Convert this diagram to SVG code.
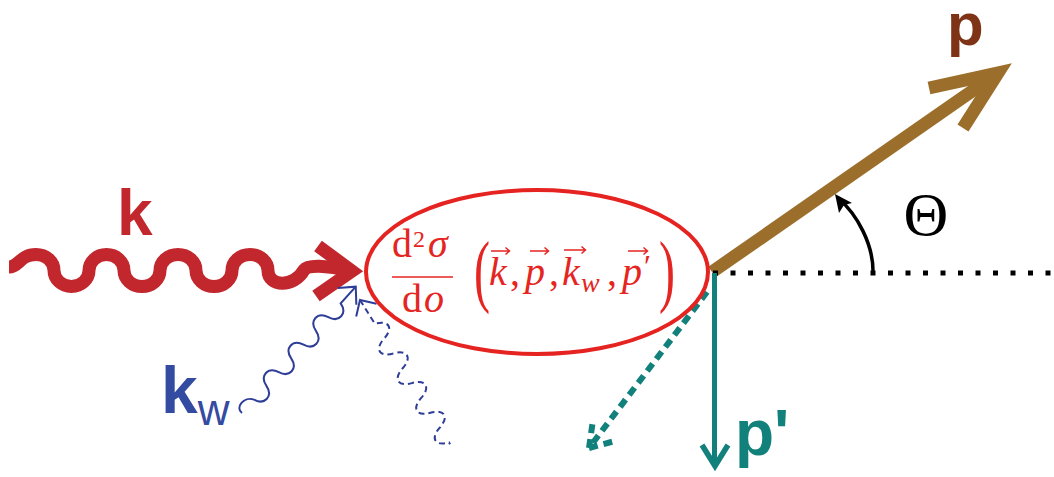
<svg xmlns="http://www.w3.org/2000/svg" width="1054" height="477" viewBox="0 0 1054 477">
<style>
.lbl{font-family:"Liberation Sans",Arial,sans-serif;font-weight:bold}
.math{font-family:"Liberation Serif","DejaVu Serif",serif;fill:#e52521}
.vec{fill:none;stroke:#e52521;stroke-width:1.5}
.teal{fill:none;stroke:#12807b}
.blue{fill:none;stroke:#2e3d97;stroke-width:2}
</style>
<rect width="1054" height="477" fill="#ffffff"/>
<g id="connectors" fill="none">
  <g id="edge-k">
    <path d="M9,267 C19,267 20,254.5 36,254.5 A18,16 0 0 1 54,270.5 A17.5,16 0 0 0 89,270.5 A17.5,16 0 0 1 124,270.5 A18,16 0 0 0 160,270.5 A18,16 0 0 1 196,270.5 A18,16 0 0 0 232,270.5 A18,16 0 0 1 268,270.5 C268,287 294,288 304,270 Q310,262 352,271" stroke="#c1272d" stroke-width="13"/>
    <polyline points="318,246 352,271 316,296" stroke="#c1272d" stroke-width="13" stroke-miterlimit="10"/>
  </g>
  <g id="edge-kw" transform="translate(242,413) rotate(-48)">
    <path class="blue" d="M0,0 C-1,-9 14,-10 18,0 c3,12 15.5,12 18.5,0 c3,-12 15.5,-12 18.5,0 c3,12 15.5,12 18.5,0 c3,-12 15.5,-12 18.5,0 c3,12 15.5,12 18.5,0 c3,-12 15.5,-12 18.5,0 c3,12 15.5,12 18.5,0 L170,0"/>
    <polyline class="blue" points="157,-12.5 170,0 157,12.5"/>
  </g>
  <g id="edge-kw-out" transform="translate(360,300) rotate(58)">
    <path class="blue" stroke-dasharray="6 4" d="M0,0 L28,0 c4,-14 13.5,-14 17.5,0 c4,14 13.5,14 17.5,0 c4,-14 13.5,-14 17.5,0 c4,14 13.5,14 17.5,0 c4,-14 13.5,-14 17.5,0 c4,14 13.5,14 17.5,0 c4,-14 13.5,-14 17.5,0 c4,14 13.5,14 17.5,0 l2,0"/>
    <polyline class="blue" points="12,-12 0,0 12,12"/>
  </g>
  <g id="edge-p">
    <line x1="712" y1="272" x2="998" y2="73" stroke="#9b6f2b" stroke-width="13"/>
    <polyline points="929,88 998,73 963,128" stroke="#9b6f2b" stroke-width="13" stroke-miterlimit="10"/>
  </g>
  <line id="axis" x1="713" y1="273" x2="1054" y2="273" stroke="#000" stroke-width="5" stroke-dasharray="5 12.5"/>
  <g id="edge-theta">
    <path d="M873,271 C873,245 858,215 838,198" stroke="#000" stroke-width="3.5"/>
    <path d="M835,194 L852,203 L844,205 L839,213 Z" fill="#000"/>
  </g>
  <g id="edge-pprime">
    <line class="teal" x1="714.5" y1="273" x2="714.5" y2="465" stroke-width="5"/>
    <polyline class="teal" points="702,445 715,466 728,445" stroke-width="5.5"/>
  </g>
  <g id="edge-pprime-alt">
    <line class="teal" x1="707" y1="292" x2="592" y2="444" stroke-width="6" stroke-dasharray="9 6"/>
    <path class="teal" d="M589,448 L593,420 M589,448 L615,441" stroke-width="6" stroke-dasharray="9 6"/>
  </g>
</g>
<g id="node-cross-section">
  <ellipse cx="537" cy="272" rx="171" ry="82" fill="none" stroke="#e52421" stroke-width="4"/>
  <text class="math" font-size="40"><tspan x="392" y="257">d</tspan><tspan x="413" y="247" font-size="24">2</tspan><tspan x="428" y="257" font-style="italic">σ</tspan></text>
  <line x1="392" y1="277" x2="453" y2="277" stroke="#e52521" stroke-width="1.6"/>
  <text class="math" font-size="40"><tspan x="402" y="312">d</tspan><tspan x="424" y="312" font-style="italic">o</tspan></text>
  <text class="math" font-size="80" transform="translate(474,297) scale(0.6,1)">(</text>
  <text class="math" font-size="80" transform="translate(659,297) scale(0.6,1)">)</text>
  <text class="math" font-size="40" font-style="italic"><tspan x="489" y="285">k</tspan><tspan x="510" y="285" font-style="normal">,</tspan><tspan x="525" y="285">p</tspan><tspan x="549" y="285" font-style="normal">,</tspan><tspan x="562" y="285">k</tspan><tspan x="581" y="292" font-size="28">w</tspan><tspan x="607" y="285" font-style="normal">,</tspan><tspan x="622" y="285">p</tspan></text>
  <text class="math" font-size="32" x="644" y="277">′</text>
  <path class="vec" d="M491,251 H509 M505.5,247.5 L509.5,251 L505.5,254.5"/>
  <path class="vec" d="M530,251 H548 M544.5,247.5 L548.5,251 L544.5,254.5"/>
  <path class="vec" d="M564,250 H585 M581.5,246.5 L585.5,250 L581.5,253.5"/>
  <path class="vec" d="M628,251 H647 M643.5,247.5 L647.5,251 L643.5,254.5"/>
</g>
<g id="labels">
  <text id="label-k" class="lbl" x="117" y="235" font-size="64" fill="#c1272d">k</text>
  <text id="label-kw" class="lbl" x="161" y="413" font-size="66" fill="#334ba1">k<tspan font-weight="normal" font-size="44" y="425">w</tspan></text>
  <text id="label-p" class="lbl" x="947" y="45" font-size="60" fill="#7f3316">p</text>
  <text id="label-pprime" class="lbl" x="735" y="455" font-size="64" fill="#12807b">p'</text>
  <text id="label-theta" x="926" y="235" font-size="62" text-anchor="middle" font-family="Liberation Serif,serif" fill="#000">Θ</text>
</g>
</svg>
